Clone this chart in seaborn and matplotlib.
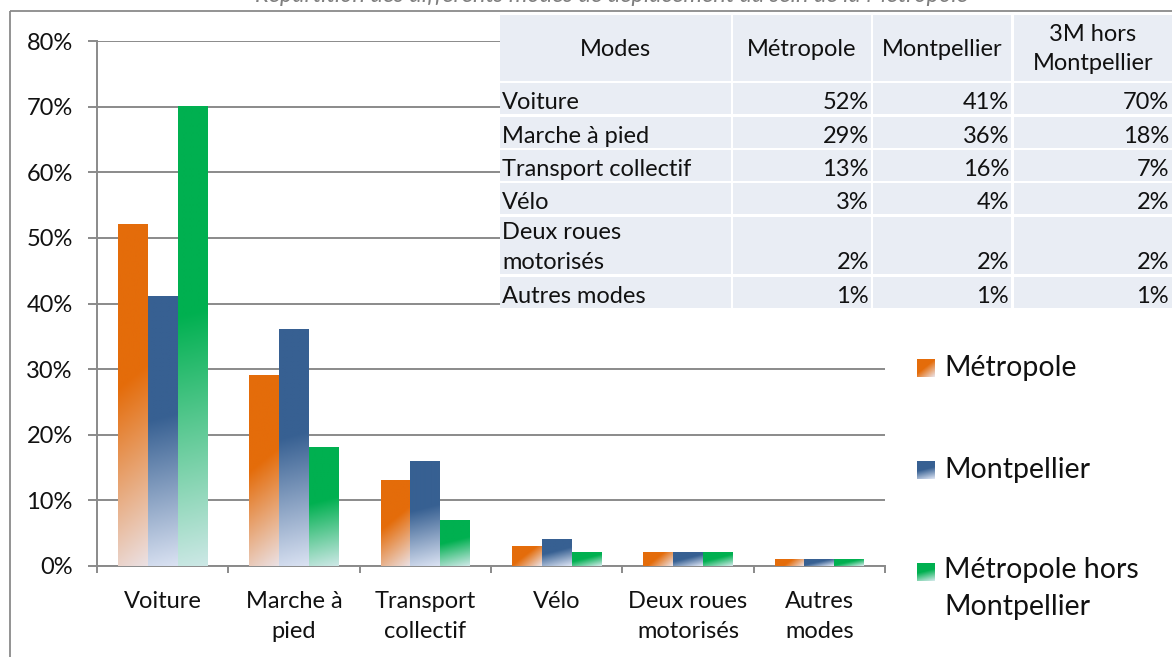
import numpy as np
import pandas as pd
import matplotlib
import matplotlib.pyplot as plt
import matplotlib.ticker as ticker
from matplotlib.colors import to_rgb
from matplotlib.patches import Rectangle
import seaborn as sns

matplotlib.use('Agg')

modes = ['Voiture', 'Marche à pied', 'Transport collectif', 'Vélo',
         'Deux roues motorisés', 'Autres modes']
mode_ticks = ['Voiture', 'Marche à\npied', 'Transport\ncollectif', 'Vélo',
              'Deux roues\nmotorisés', 'Autres\nmodes']
table_modes = ['Voiture', 'Marche à pied', 'Transport collectif', 'Vélo',
               'Deux roues\nmotorisés', 'Autres modes']
zones = ['Métropole', 'Montpellier', 'Métropole hors\nMontpellier']
table_headers = ['Modes', 'Métropole', 'Montpellier', '3M hors\nMontpellier']
metropole = [52, 29, 13, 3, 2, 1]
montpellier = [41, 36, 16, 4, 2, 1]
hors_montpellier = [70, 18, 7, 2, 2, 1]
title = 'Répartition des différents modes de déplacement au sein de la Métropole'

colors = ['#E46C0A', '#376092', '#00B050']
lights = ['#EBE1E4', '#DAE2F2', '#CDE8E6']
diagonal = [True, False, False]
grey = '#8A8A8A'

W, H = 1172, 657

sns.set_theme(style='white')
plt.rcParams['font.family'] = ['Lato', 'DejaVu Sans']

series = [metropole, montpellier, hors_montpellier]
df = pd.DataFrame({
    'mode': modes * 3,
    'zone': np.repeat(zones, len(modes)),
    'share': np.concatenate(series) / 100,
})

fig = plt.figure(figsize=(W / 100, H / 100), dpi=100)
ax = fig.add_axes([97 / W, (H - 566) / H, (885 - 97) / W, (566 - 41) / H])

sns.barplot(data=df, x='mode', y='share', hue='zone', palette=colors,
            saturation=1, width=0.68, gap=0, legend=False, ax=ax)

ax.set_xlim(-0.5, 5.5)
ax.set_ylim(0, 0.8)
ax.set_yticks(np.arange(0, 0.81, 0.1))
ax.yaxis.set_major_formatter(ticker.PercentFormatter(xmax=1, decimals=0))
ax.set_xticks(range(len(modes)))
ax.set_xticklabels(mode_ticks, linespacing=1.55)
ax.set_xticks(np.arange(-0.5, len(modes), 1), minor=True)
ax.set_xlabel('')
ax.set_ylabel('')

ax.yaxis.grid(True, color=grey, lw=1.4)
ax.set_axisbelow(True)
for side in ['top', 'right']:
    ax.spines[side].set_visible(False)
for side in ['left', 'bottom']:
    ax.spines[side].set_color(grey)
    ax.spines[side].set_linewidth(1.4)
ax.tick_params(axis='y', length=6.5, width=1.4, color=grey, pad=11,
               labelsize=17, labelcolor='#111111', left=True)
ax.tick_params(axis='x', which='major', length=0, pad=18,
               labelsize=17, labelcolor='#111111')
ax.tick_params(axis='x', which='minor', length=5, width=1.4, color=grey,
               bottom=True, direction='out')


def gradient(color, light, diag, w_px, h_px):
    c0 = np.array(to_rgb(color))
    c1 = np.array(to_rgb(light))
    ny = max(int(h_px), 2)
    nx = max(int(w_px), 2)
    v = np.linspace(0, 1, ny)[:, None]
    u = np.linspace(0, 1, nx)[None, :]
    k = 0.8 if diag else 0.25
    s = (v * h_px + u * w_px * k) / (h_px + w_px * k)
    t = np.clip((s - 0.45) / 0.55, 0, 1)
    return c0 + (c1 - c0) * t[..., None]


# Replace the flat bars by gradient fills, like the original chart
for i, container in enumerate(ax.containers):
    for bar in container:
        x0, y0 = bar.get_xy()
        w, h = bar.get_width(), bar.get_height()
        if h <= 0:
            continue
        (px0, py0), (px1, py1) = ax.transData.transform([(x0, y0), (x0 + w, y0 + h)])
        img = gradient(colors[i], lights[i], diagonal[i], px1 - px0, py1 - py0)
        ax.imshow(img, extent=(x0, x0 + w, y0, y0 + h), aspect='auto',
                  origin='upper', interpolation='bilinear', zorder=3)
        bar.set_facecolor('none')
        bar.set_linewidth(0)
ax.set_xlim(-0.5, 5.5)
ax.set_ylim(0, 0.8)

# Overlay in pixel coordinates for the frame, table, legend and clipped title
ov = fig.add_axes([0, 0, 1, 1], zorder=10)
ov.axis('off')

ov.add_patch(Rectangle((10, 11), 1300, 800, fill=False, ec=grey, lw=1.3))
ov.text(968, 2, title, ha='right', va='baseline', fontsize=17,
        style='italic', color='#7F7F7F')

col_edges = [(500, 731), (733, 871), (873, 1011), (1014, 1180)]
row_edges = [(15, 81), (83, 114), (117, 148), (150, 181), (183, 214),
             (217, 274), (277, 308)]
cell_bg = '#E9EDF4'
tfs = 17

ov.add_patch(Rectangle((500, 13), 700, 297, fc='white', ec='none'))
for (c0, c1) in col_edges:
    for (r0, r1) in row_edges:
        ov.add_patch(Rectangle((c0, r0), c1 - c0, r1 - r0, fc=cell_bg, ec='none'))

for j, head in enumerate(table_headers):
    c0, c1 = col_edges[j]
    if j == 3:
        c1 = 1172
    r0, r1 = row_edges[0]
    ov.text((c0 + c1) / 2, (r0 + r1) / 2 + 1, head, ha='center', va='center',
            fontsize=tfs, color='#111111', linespacing=1.45)

for r, name in enumerate(table_modes):
    r0, r1 = row_edges[r + 1]
    ov.text(col_edges[0][0] + 2, r1 - 1, name, ha='left', va='bottom',
            fontsize=tfs, color='#111111', linespacing=1.55)
    for j, vals in enumerate(series):
        right = col_edges[j + 1][1] - 2
        if j == 2:
            right = 1169
        ov.text(right, r1 - 1, f'{vals[r]}%', ha='right', va='bottom',
                fontsize=tfs, color='#111111')

# Legend with gradient squares
legend_y = [368, 470, 572]
for i, label in enumerate(zones):
    y = legend_y[i]
    img = gradient(colors[i], lights[i], diagonal[i], 18, 18)
    ov.imshow(img, extent=(917, 935, y + 9, y - 9), aspect='auto',
              origin='upper', interpolation='bilinear')
    if '\n' in label:
        ov.text(944, y - 15, label, ha='left', va='top',
                fontsize=20.5, color='#111111', linespacing=1.5)
    else:
        ov.text(944, y, label, ha='left', va='center',
                fontsize=20.5, color='#111111')

ov.set_xlim(0, W)
ov.set_ylim(H, 0)

plt.savefig('out.png', dpi=100)
